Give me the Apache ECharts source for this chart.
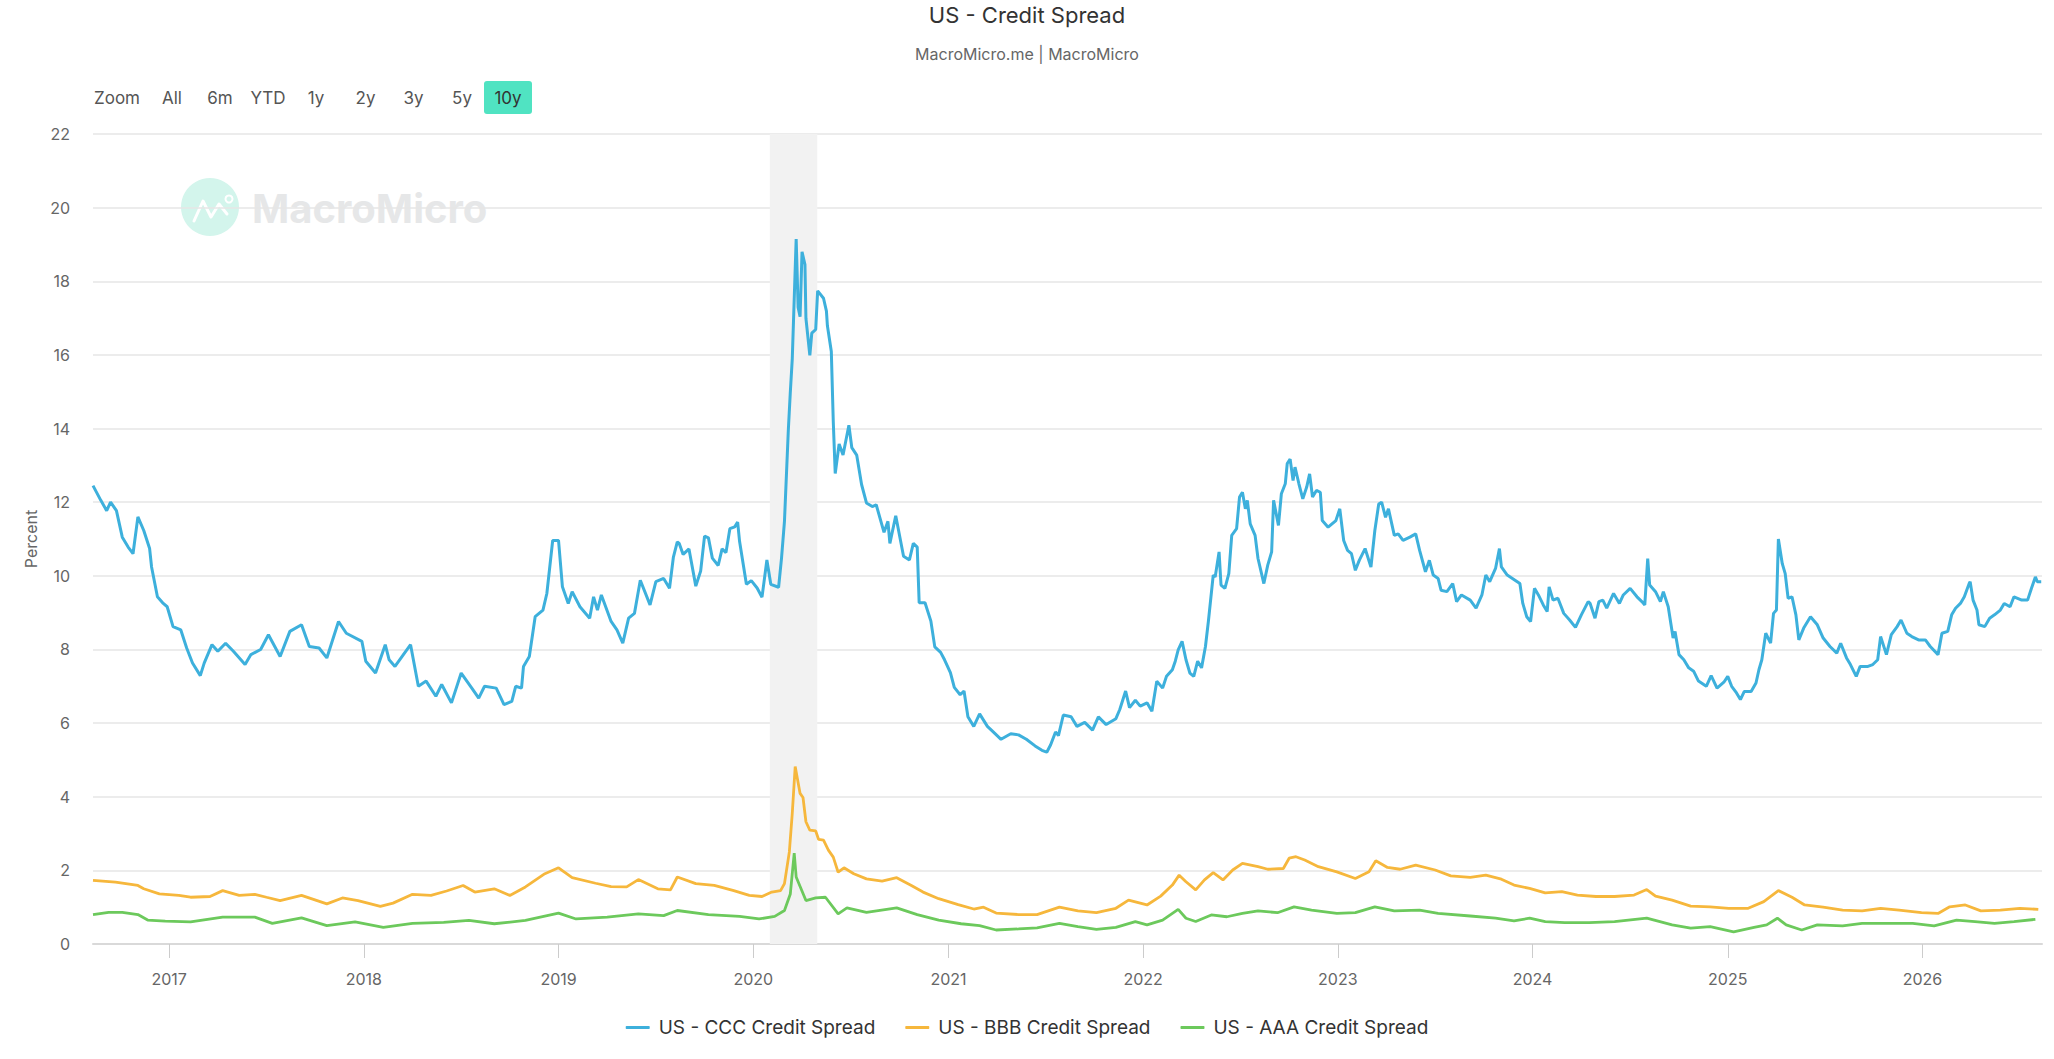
<!DOCTYPE html>
<html>
<head>
<meta charset="utf-8">
<title>US - Credit Spread</title>
<script src="https://cdn.jsdelivr.net/npm/echarts@6/dist/echarts.min.js"></script>
<style>
  html, body { margin: 0; padding: 0; background: #ffffff; }
  #chart { width: 2054px; height: 1059px; }
</style>
</head>
<body>
<div id="chart"></div>
<script>
// ---- DATA (decimal year, percent) ----
const seriesNames = ['US - CCC Credit Spread', 'US - BBB Credit Spread', 'US - AAA Credit Spread'];
const seriesColors = ['#3db0dc', '#f6b73c', '#6cc95c'];
const yTicks = [0, 2, 4, 6, 8, 10, 12, 14, 16, 18, 20, 22];
const xRangeYears = [2016.61, 2026.614];
const recession = [2020.085, 2020.328];
const zoomButtons = ['Zoom', 'All', '6m', 'YTD', '1y', '2y', '3y', '5y', '10y'];

const cccData = [
[2016.61,12.45],[2016.65,12.05],[2016.68,11.77],[2016.70,12.0],[2016.73,11.77],[2016.76,11.05],[2016.79,10.78],[2016.815,10.6],
[2016.84,11.6],[2016.87,11.23],[2016.90,10.74],[2016.91,10.24],[2016.94,9.43],[2016.97,9.25],[2016.99,9.16],[2017.02,8.62],
[2017.06,8.53],[2017.09,8.04],[2017.12,7.63],[2017.16,7.29],[2017.18,7.63],[2017.22,8.13],[2017.25,7.95],[2017.29,8.17],
[2017.33,7.95],[2017.39,7.59],[2017.42,7.86],[2017.47,8.0],[2017.51,8.4],[2017.57,7.81],[2017.62,8.49],[2017.68,8.67],
[2017.72,8.08],[2017.77,8.04],[2017.81,7.77],[2017.87,8.76],[2017.91,8.44],[2017.99,8.22],[2018.01,7.68],[2018.06,7.36],
[2018.11,8.13],[2018.13,7.72],[2018.16,7.54],[2018.24,8.13],[2018.28,7.0],[2018.32,7.14],[2018.37,6.73],[2018.40,7.05],
[2018.45,6.55],[2018.50,7.36],[2018.56,6.91],[2018.59,6.68],[2018.62,7.0],[2018.68,6.95],[2018.72,6.5],[2018.76,6.59],
[2018.78,7.0],[2018.81,6.95],[2018.82,7.54],[2018.85,7.81],[2018.88,8.89],[2018.92,9.07],[2018.94,9.52],[2018.97,10.96],
[2019.00,10.96],[2019.02,9.7],[2019.05,9.25],[2019.07,9.57],[2019.11,9.16],[2019.16,8.85],[2019.18,9.43],[2019.20,9.07],
[2019.22,9.48],[2019.27,8.76],[2019.30,8.53],[2019.33,8.17],[2019.36,8.85],[2019.39,8.98],[2019.42,9.88],[2019.47,9.21],
[2019.50,9.84],[2019.54,9.93],[2019.57,9.66],[2019.59,10.51],[2019.61,10.92],
[2019.62,10.88],[2019.64,10.58],[2019.67,10.73],[2019.705,9.72],[2019.73,10.13],[2019.75,11.08],[2019.77,11.03],[2019.79,10.48],
[2019.82,10.28],[2019.84,10.73],[2019.86,10.63],[2019.88,11.28],[2019.905,11.33],[2019.92,11.46],[2019.93,10.93],[2019.965,9.77],
[2019.99,9.87],[2020.02,9.67],[2020.045,9.42],[2020.07,10.43],[2020.09,9.77],[2020.13,9.69],[2020.145,10.48],[2020.16,11.48],
[2020.18,13.98],[2020.19,14.99],[2020.20,15.89],[2020.22,19.15],[2020.23,17.29],[2020.24,17.04],[2020.25,18.8],[2020.265,18.45],
[2020.27,16.99],[2020.29,15.99],[2020.30,16.59],[2020.32,16.69],[2020.33,17.74],[2020.36,17.54],[2020.375,17.19],[2020.38,16.79],
[2020.40,16.09],[2020.41,14.19],[2020.42,12.78],[2020.44,13.58],[2020.46,13.28],[2020.49,14.09],[2020.505,13.48],[2020.53,13.28],
[2020.555,12.48],[2020.58,11.98],[2020.61,11.88],[2020.63,11.93],[2020.67,11.18],[2020.69,11.48],[2020.70,10.88],[2020.73,11.63],
[2020.77,10.53],[2020.80,10.43],[2020.82,10.88],[2020.84,10.78],[2020.85,9.27],[2020.88,9.27],[2020.91,8.77],[2020.93,8.07],
[2020.96,7.92],[2020.98,7.72],[2021.01,7.37],[2021.03,6.97],[2021.06,6.77],[2021.08,6.87],[2021.10,6.17],[2021.13,5.91],
[2021.16,6.25],[2021.20,5.91],[2021.23,5.76],[2021.27,5.56],[2021.32,5.71],[2021.36,5.68],[2021.40,5.56],[2021.445,5.38],
[2021.48,5.26],[2021.505,5.21],[2021.525,5.41],[2021.55,5.76],[2021.565,5.66],[2021.59,6.22],[2021.63,6.17],[2021.66,5.91],
[2021.70,6.02],[2021.74,5.81],[2021.77,6.17],[2021.81,5.96],[2021.86,6.12],[2021.88,6.37],[2021.91,6.87],[2021.93,6.42],
[2021.96,6.62],
[2021.985,6.46],[2022.02,6.55],[2022.045,6.32],[2022.07,7.14],[2022.10,6.95],[2022.12,7.27],[2022.15,7.45],[2022.165,7.68],
[2022.18,7.99],[2022.20,8.22],[2022.22,7.72],[2022.24,7.36],[2022.26,7.27],[2022.28,7.68],[2022.30,7.5],[2022.32,8.08],
[2022.335,8.76],[2022.36,10.02],[2022.37,9.97],[2022.39,10.65],[2022.40,9.75],[2022.42,9.66],[2022.44,10.06],[2022.455,11.1],
[2022.48,11.28],[2022.495,12.14],[2022.51,12.27],[2022.525,11.82],[2022.535,12.05],[2022.55,11.41],[2022.575,11.1],[2022.59,10.47],
[2022.62,9.79],[2022.64,10.29],[2022.66,10.65],[2022.67,12.05],[2022.695,11.37],[2022.71,12.23],[2022.73,12.5],[2022.74,13.05],
[2022.755,13.17],[2022.77,12.59],[2022.78,12.95],[2022.80,12.5],[2022.82,12.09],[2022.84,12.41],[2022.855,12.77],[2022.87,12.14],
[2022.89,12.32],[2022.91,12.27],[2022.92,11.5],[2022.95,11.32],[2022.99,11.5],[2023.01,11.82],[2023.03,10.96],[2023.05,10.69],
[2023.07,10.6],[2023.09,10.15],[2023.11,10.42],[2023.14,10.74],[2023.17,10.24],[2023.19,11.23],[2023.21,11.95],[2023.225,12.0],
[2023.245,11.59],[2023.26,11.82],[2023.29,11.1],[2023.31,11.14],[2023.335,10.96],[2023.37,11.05],[2023.40,11.14],[2023.42,10.69],
[2023.45,10.11],[2023.47,10.42],[2023.49,10.02],[2023.515,9.93],[2023.53,9.61],[2023.56,9.57],[2023.59,9.79],[2023.61,9.3],
[2023.635,9.48],[2023.68,9.34],[2023.71,9.12],[2023.74,9.48],[2023.76,10.02],[2023.78,9.84],[2023.81,10.2],[2023.83,10.74],
[2023.84,10.24],[2023.87,10.02],[2023.91,9.88],[2023.935,9.79],[2023.95,9.25],[2023.97,8.89],[2023.99,8.76],[2024.01,9.66],
[2024.03,9.48],[2024.055,9.21],[2024.075,9.03],[2024.085,9.7],[2024.105,9.34],[2024.13,9.39],[2024.16,8.98],[2024.19,8.8],
[2024.22,8.6],[2024.25,8.94],[2024.285,9.3],
[2024.295,9.25],[2024.32,8.85],[2024.34,9.3],[2024.36,9.34],[2024.38,9.12],[2024.415,9.52],[2024.445,9.25],[2024.465,9.48],
[2024.50,9.66],[2024.535,9.43],[2024.56,9.3],[2024.575,9.21],[2024.59,10.47],[2024.60,9.75],[2024.63,9.57],[2024.655,9.3],
[2024.67,9.57],[2024.695,9.16],[2024.72,8.31],[2024.73,8.49],[2024.75,7.86],[2024.775,7.72],[2024.80,7.5],[2024.825,7.41],
[2024.85,7.14],[2024.89,7.0],[2024.915,7.29],[2024.945,6.95],[2024.98,7.11],[2025.00,7.27],[2025.02,7.0],[2025.045,6.82],
[2025.065,6.64],[2025.085,6.86],[2025.12,6.86],[2025.145,7.09],[2025.16,7.45],[2025.175,7.72],[2025.195,8.44],[2025.22,8.17],
[2025.235,8.98],[2025.25,9.07],[2025.26,11.0],[2025.28,10.33],[2025.295,10.06],[2025.31,9.39],[2025.33,9.43],[2025.35,8.94],
[2025.365,8.26],[2025.39,8.58],[2025.425,8.89],[2025.46,8.67],[2025.49,8.31],[2025.525,8.08],[2025.56,7.9],[2025.58,8.17],
[2025.61,7.77],[2025.63,7.59],[2025.66,7.27],[2025.68,7.54],[2025.72,7.54],[2025.745,7.59],[2025.77,7.72],[2025.785,8.35],
[2025.815,7.86],[2025.84,8.4],[2025.87,8.62],[2025.89,8.8],[2025.92,8.44],[2025.945,8.35],[2025.98,8.26],[2026.015,8.26],
[2026.04,8.08],[2026.08,7.86],[2026.10,8.44],[2026.13,8.49],[2026.15,8.94],[2026.17,9.12],[2026.195,9.25],[2026.215,9.43],
[2026.24,9.79],[2026.245,9.84],[2026.26,9.34],[2026.28,9.07],[2026.29,8.67],[2026.32,8.62],[2026.345,8.85],[2026.37,8.94],
[2026.40,9.07],[2026.42,9.25],[2026.45,9.16],[2026.47,9.43],[2026.51,9.34],[2026.54,9.34],[2026.56,9.66],[2026.58,9.97],
[2026.59,9.84],[2026.61,9.84]
];

const bbbData = [
[2016.61,1.73],[2016.725,1.68],[2016.84,1.59],[2016.87,1.5],[2016.95,1.36],[2017.05,1.32],[2017.11,1.27],[2017.21,1.29],
[2017.275,1.45],[2017.36,1.32],[2017.44,1.35],[2017.50,1.27],[2017.57,1.18],[2017.68,1.32],[2017.81,1.09],[2017.89,1.25],
[2017.97,1.18],[2018.085,1.02],[2018.15,1.11],[2018.25,1.35],[2018.345,1.32],[2018.425,1.44],[2018.51,1.59],[2018.57,1.41],
[2018.67,1.5],[2018.75,1.32],[2018.83,1.55],[2018.93,1.91],[2019.0,2.07],[2019.07,1.8],[2019.19,1.65],[2019.27,1.56],
[2019.35,1.55],[2019.41,1.75],[2019.51,1.5],[2019.575,1.47],[2019.61,1.82],[2019.705,1.64],[2019.80,1.59],[2019.90,1.45],
[2019.98,1.32],[2020.045,1.29],[2020.095,1.41],[2020.14,1.45],[2020.16,1.64],[2020.185,2.5],[2020.20,3.55],[2020.215,4.82],
[2020.24,4.09],[2020.255,3.98],[2020.27,3.32],[2020.29,3.09],[2020.32,3.07],[2020.335,2.84],[2020.36,2.82],[2020.385,2.55],
[2020.41,2.36],[2020.435,1.95],[2020.465,2.07],[2020.515,1.91],[2020.58,1.77],[2020.66,1.71],[2020.735,1.8],[2020.81,1.59],
[2020.87,1.41],[2020.95,1.23],[2021.05,1.07],[2021.13,0.95],[2021.18,1.0],[2021.245,0.84],[2021.36,0.8],[2021.455,0.8],
[2021.57,1.0],[2021.665,0.9],[2021.76,0.85],[2021.86,0.97],[2021.925,1.19],[2022.02,1.06],[2022.09,1.3],[2022.15,1.6],
[2022.185,1.87],[2022.22,1.69],[2022.27,1.47],[2022.315,1.74],[2022.36,1.94],[2022.41,1.74],[2022.46,2.01],[2022.51,2.19],
[2022.59,2.1],[2022.64,2.03],[2022.72,2.05],[2022.75,2.33],[2022.785,2.37],[2022.83,2.28],[2022.90,2.1],[2022.995,1.96],
[2023.09,1.78],[2023.16,1.96],[2023.195,2.26],[2023.255,2.08],[2023.32,2.03],[2023.40,2.14],[2023.50,2.01],[2023.58,1.85],
[2023.68,1.81],[2023.76,1.87],[2023.84,1.76],[2023.905,1.6],[2023.985,1.51],[2024.065,1.39],[2024.15,1.42],[2024.23,1.33],
[2024.325,1.29],[2024.42,1.29],[2024.52,1.33],[2024.585,1.48],[2024.63,1.3],[2024.715,1.19],[2024.81,1.03],[2024.91,1.01],
[2025.005,0.97],[2025.105,0.97],[2025.185,1.15],[2025.26,1.45],[2025.33,1.27],[2025.395,1.06],[2025.49,1.0],[2025.59,0.92],
[2025.69,0.9],[2025.785,0.97],[2025.88,0.92],[2025.995,0.85],[2026.08,0.83],[2026.14,1.01],[2026.22,1.06],[2026.30,0.9],
[2026.40,0.92],[2026.50,0.97],[2026.595,0.94]
];

const aaaData = [
[2016.61,0.8],[2016.69,0.86],[2016.76,0.86],[2016.84,0.8],[2016.89,0.65],[2016.98,0.62],[2017.11,0.6],[2017.275,0.73],
[2017.44,0.73],[2017.53,0.56],[2017.68,0.71],[2017.81,0.5],[2017.955,0.6],[2018.10,0.45],[2018.25,0.56],[2018.41,0.59],
[2018.54,0.64],[2018.67,0.55],[2018.83,0.64],[2019.0,0.84],[2019.09,0.68],[2019.25,0.73],[2019.41,0.82],[2019.54,0.77],
[2019.61,0.91],[2019.77,0.8],[2019.93,0.75],[2020.03,0.68],[2020.11,0.75],[2020.16,0.91],[2020.19,1.36],[2020.21,2.47],
[2020.22,1.82],[2020.245,1.5],[2020.27,1.18],[2020.32,1.25],[2020.37,1.27],[2020.435,0.82],[2020.48,0.98],[2020.58,0.86],
[2020.735,0.98],[2020.84,0.8],[2020.95,0.65],[2021.065,0.55],[2021.16,0.5],[2021.245,0.38],[2021.36,0.41],[2021.455,0.44],
[2021.57,0.56],[2021.665,0.47],[2021.76,0.4],[2021.86,0.45],[2021.96,0.61],[2022.02,0.52],[2022.10,0.65],[2022.18,0.94],
[2022.22,0.7],[2022.27,0.61],[2022.35,0.79],[2022.43,0.74],[2022.51,0.83],[2022.59,0.9],[2022.69,0.85],[2022.775,1.01],
[2022.865,0.92],[2022.995,0.83],[2023.09,0.85],[2023.19,1.01],[2023.29,0.9],[2023.42,0.92],[2023.515,0.83],[2023.68,0.76],
[2023.81,0.7],[2023.905,0.63],[2023.985,0.7],[2024.065,0.61],[2024.165,0.58],[2024.29,0.58],[2024.42,0.61],[2024.585,0.7],
[2024.715,0.52],[2024.81,0.43],[2024.91,0.47],[2025.03,0.33],[2025.135,0.45],[2025.20,0.52],[2025.255,0.7],[2025.30,0.52],
[2025.38,0.38],[2025.46,0.52],[2025.59,0.49],[2025.69,0.56],[2025.82,0.56],[2025.95,0.56],[2026.06,0.49],[2026.175,0.65],
[2026.27,0.61],[2026.37,0.56],[2026.47,0.61],[2026.58,0.67]
];

// ---- helpers ----
function yearToTime(y) {
  const yr = Math.floor(y);
  const s = new Date(yr, 0, 1).getTime();
  const e = new Date(yr + 1, 0, 1).getTime();
  return s + (y - yr) * (e - s);
}
function toSeries(arr) { return arr.map(p => [yearToTime(p[0]), p[1]]); }

const FONT = 'Inter, Roboto, "Noto Sans", sans-serif';
const chart = echarts.init(document.getElementById('chart'), null, { renderer: 'svg' });

// zoom button centres (layout)
const btnX = [117, 172, 220, 268, 316, 365.5, 413.5, 462, 508];
const graphics = [];
graphics.push({ type: 'rect', z: 1, shape: { x: 484, y: 81, width: 48, height: 33, r: 3 }, style: { fill: '#50e3c2' } });
zoomButtons.forEach((b, i) => {
  graphics.push({ type: 'text', z: 2, x: btnX[i], y: 98,
    style: { text: b, fontSize: 17, fontFamily: FONT, fill: i === 8 ? '#333' : '#555', align: 'center', verticalAlign: 'middle' } });
});
// watermark
graphics.push({ type: 'circle', z: -1, shape: { cx: 210, cy: 207, r: 29 }, style: { fill: '#d3f5ec' } });
graphics.push({ type: 'polyline', z: -1, shape: { points: [[194, 221], [203, 201], [211, 217], [219, 204], [227, 214]] },
  style: { stroke: '#ffffff', lineWidth: 3, fill: null, lineJoin: 'round', lineCap: 'round' } });
graphics.push({ type: 'circle', z: -1, shape: { cx: 229, cy: 199, r: 3.5 }, style: { fill: null, stroke: '#ffffff', lineWidth: 2 } });
graphics.push({ type: 'text', z: -1, x: 252, y: 208,
  style: { text: 'MacroMicro', fontSize: 40, fontWeight: 'bold', fontFamily: FONT, fill: '#e6e7e8', verticalAlign: 'middle' } });

const DAY = 86400000;
const option = {
  animation: false,
  backgroundColor: '#ffffff',
  textStyle: { fontFamily: FONT },
  title: [
    { text: 'US - Credit Spread', left: 'center', top: -1,
      textStyle: { fontSize: 22, fontWeight: 'normal', color: '#333', fontFamily: FONT } },
    { text: 'MacroMicro.me | MacroMicro', left: 'center', top: 41,
      textStyle: { fontSize: 16, fontWeight: 'normal', color: '#666', fontFamily: FONT } }
  ],
  grid: { left: 93, right: 12, top: 134, bottom: 115 },
  legend: {
    data: seriesNames, top: 1013, left: 'center', icon: 'roundRect', itemWidth: 24, itemHeight: 3, itemGap: 30,
    textStyle: { fontSize: 19, color: '#333', fontFamily: FONT, padding: [0, 0, 0, 4] }
  },
  xAxis: {
    type: 'time',
    min: yearToTime(xRangeYears[0]), max: yearToTime(xRangeYears[1]),
    splitNumber: 10, minInterval: 365 * DAY, maxInterval: 366 * DAY,
    axisLine: { show: true, lineStyle: { color: '#d9d9d9', width: 2 } },
    axisTick: { show: true, length: 14, lineStyle: { color: '#cccccc', width: 1 } },
    axisLabel: { formatter: '{yyyy}', color: '#666', fontSize: 16, margin: 27, fontFamily: FONT,
      showMinLabel: false, showMaxLabel: false },
    splitLine: { show: false }
  },
  yAxis: {
    type: 'value', min: yTicks[0], max: yTicks[yTicks.length - 1], interval: 2,
    name: 'Percent', nameLocation: 'middle', nameRotate: 90, nameGap: 54,
    nameTextStyle: { fontSize: 16, color: '#666', fontFamily: FONT },
    axisLine: { show: false }, axisTick: { show: false },
    axisLabel: { color: '#666', fontSize: 16, margin: 23, fontFamily: FONT },
    splitLine: { lineStyle: { color: '#e6e6e6', width: 1.5 } }
  },
  graphic: graphics,
  series: [
    { name: 'recession', type: 'line', data: [], z: 0, silent: true,
      markArea: { silent: true, itemStyle: { color: '#f2f2f2' },
        data: [[{ xAxis: yearToTime(recession[0]) }, { xAxis: yearToTime(recession[1]) }]] } },
    { name: seriesNames[0], type: 'line', data: toSeries(cccData), showSymbol: false, symbol: 'none', z: 3,
      color: seriesColors[0], lineStyle: { width: 3, color: seriesColors[0] } },
    { name: seriesNames[1], type: 'line', data: toSeries(bbbData), showSymbol: false, symbol: 'none', z: 3,
      color: seriesColors[1], lineStyle: { width: 2.8, color: seriesColors[1] } },
    { name: seriesNames[2], type: 'line', data: toSeries(aaaData), showSymbol: false, symbol: 'none', z: 3,
      color: seriesColors[2], lineStyle: { width: 2.8, color: seriesColors[2] } }
  ]
};
chart.setOption(option);
</script>
</body>
</html>
